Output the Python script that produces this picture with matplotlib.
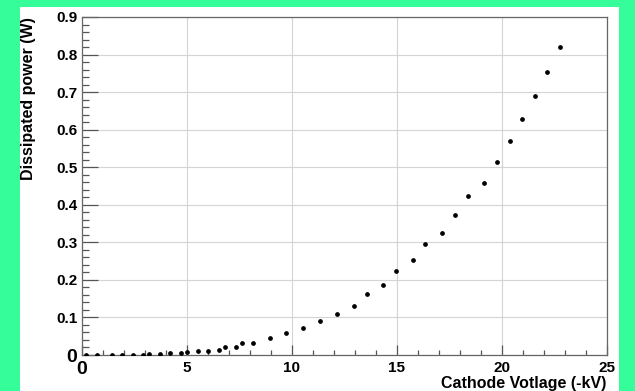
import numpy as np
import matplotlib
matplotlib.use('Agg')
import matplotlib.pyplot as plt
from matplotlib.patches import Rectangle
from matplotlib.ticker import MultipleLocator

plt.rcParams['font.family'] = ['Liberation Sans', 'DejaVu Sans']
plt.rcParams['font.weight'] = 'bold'

# cathode voltage (-kV) and dissipated power (W)
voltage = [0.21, 0.72, 1.44, 1.94, 2.44, 2.93, 3.23, 3.74, 4.23, 4.72,
           5.04, 5.53, 6.04, 6.56, 6.85, 7.34, 7.66, 8.15, 8.96, 9.75,
           10.56, 11.36, 12.15, 12.98, 13.58, 14.37, 14.98, 15.79, 16.37, 17.18,
           17.80, 18.39, 19.18, 19.79, 20.39, 20.99, 21.61, 22.18, 22.80]
power = [0.000, 0.001, 0.000, 0.000, 0.000, 0.000, 0.003, 0.003, 0.004, 0.005,
         0.009, 0.010, 0.011, 0.012, 0.020, 0.021, 0.031, 0.033, 0.044, 0.058,
         0.072, 0.090, 0.109, 0.130, 0.162, 0.186, 0.225, 0.252, 0.295, 0.326,
         0.373, 0.423, 0.459, 0.513, 0.571, 0.629, 0.690, 0.753, 0.820]

xticks = [0, 5, 10, 15, 20, 25]
yticks = [0, 0.1, 0.2, 0.3, 0.4, 0.5, 0.6, 0.7, 0.8, 0.9]

fig = plt.figure(figsize=(6.35, 3.91), dpi=100)
fig.patch.set_facecolor('#35fd9a')
# white canvas pad, kept behind the axes
fig.add_artist(Rectangle((20/635, 0), 599/635, 384/391, transform=fig.transFigure,
                         facecolor='white', edgecolor='none', zorder=-10))

ax = fig.add_axes([81.5/635, 36/391, 525.2/635, 338/391])
ax.set_facecolor('white')
ax.plot(voltage, power, 'o', color='black', markersize=2.4, zorder=3)

ax.set_xlim(0, 25)
ax.set_ylim(0, 0.9)
ax.xaxis.set_minor_locator(MultipleLocator(1))
ax.yaxis.set_minor_locator(MultipleLocator(0.02))

ax.grid(True, which='major', color='#d4d4d4', lw=0.8)
ax.set_axisbelow(True)

ax.tick_params(axis='x', which='major', direction='in', length=7.2, width=0.9,
               color='#555555', labelsize=11, pad=4)
ax.tick_params(axis='x', which='minor', direction='in', length=3.6, width=0.9, color='#555555')
ax.tick_params(axis='y', which='major', direction='in', length=11.5, width=0.9,
               color='#555555', labelsize=11, pad=3)
ax.tick_params(axis='y', which='minor', direction='in', length=5, width=0.9, color='#555555')

ax.set_xticks(xticks)
ax.set_xticklabels([f'{v:g}' for v in xticks])
ax.set_yticks(yticks)
ax.set_yticklabels([f'{v:g}' for v in yticks])
for lab in ax.get_xticklabels() + ax.get_yticklabels():
    lab.set_fontweight('bold')
ax.get_xticklabels()[0].set_fontsize(14)
ax.get_yticklabels()[0].set_fontsize(14)

for s in ax.spines.values():
    s.set_color('#666666')
    s.set_linewidth(0.9)

ax.set_xlabel('Cathode Votlage (-kV)', fontsize=11.5, fontweight='bold', ha='right', va='top')
ax.xaxis.set_label_coords(1.0, -0.062)
ax.set_ylabel('Dissipated power (W)', fontsize=11.5, fontweight='bold', ha='right')
ax.yaxis.set_label_coords(-0.0857, 1.0)

fig.savefig('out.png', dpi=100, facecolor=fig.get_facecolor())
